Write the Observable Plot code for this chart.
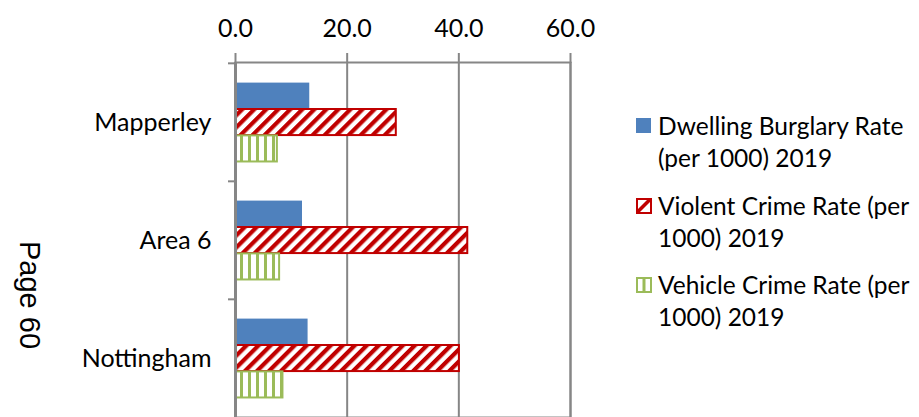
<!DOCTYPE html>
<html>
<head>
<meta charset="utf-8">
<script src="https://cdn.jsdelivr.net/npm/d3@7"></script>
<script src="https://cdn.jsdelivr.net/npm/@observablehq/plot@0.6"></script>
<style>
  html, body { margin: 0; padding: 0; background: #fff; }
  #wrap { position: relative; width: 919px; height: 417px; overflow: hidden; font-family: Lato, sans-serif; }
  #chart { position: absolute; left: 0; top: 0; }
  #legend { position: absolute; left: 636px; top: 110px; font-size: 24.5px; line-height: 32px; color: #000; }
  .entry { position: relative; padding-left: 22px; margin-bottom: 15.5px; width: 280px; white-space: nowrap; }
  .entry svg { position: absolute; left: 0; top: 8px; }
  #page { position: absolute; left: 29px; top: 295px; font-family: "Liberation Sans", Arial, sans-serif; font-size: 29px; color: #000;
          transform: translate(-50%, -50%) rotate(90deg); white-space: nowrap; }
</style>
</head>
<body>
<svg width="0" height="0" style="position:absolute">
  <defs>
    <pattern id="redDiag" patternUnits="userSpaceOnUse" width="8.5" height="8.5" patternTransform="rotate(45)">
      <rect width="8.5" height="8.5" fill="#ffffff"/>
      <rect width="4.2" height="8.5" fill="#C00000"/>
    </pattern>
    <pattern id="greenVert" patternUnits="userSpaceOnUse" width="8" height="8">
      <rect width="8" height="8" fill="#ffffff"/>
      <rect width="3" height="8" fill="#9BBB59"/>
    </pattern>
  </defs>
</svg>
<div id="wrap">
  <div id="chart"></div>
  <div id="page">Page 60</div>
  <div id="legend"></div>
</div>
<script>
const categories = ["Mapperley", "Area 6", "Nottingham"];
const burglaryRate = [13.3, 12.0, 13.0];
const violentRate = [28.8, 41.6, 40.1];
const vehicleRate = [7.5, 7.9, 8.5];
const seriesNames = [
  ["Dwelling Burglary Rate", "(per 1000) 2019"],
  ["Violent Crime Rate (per", "1000) 2019"],
  ["Vehicle Crime Rate (per", "1000) 2019"]
];
const xTicks = [0, 20, 40, 60];

const rows = (vals) => categories.map((c, i) => ({category: c, value: vals[i]}));

const H = 417, MT = 62;
const step = (H - MT) / categories.length;
const barH = 26.4, outer = 19.6;
const inset = (k) => ({insetTop: outer + k * barH, insetBottom: step - outer - (k + 1) * barH});

const gray = "#868686";

const chart = Plot.plot({
  width: 919,
  height: H,
  marginTop: MT,
  marginBottom: 0,
  marginLeft: 235,
  marginRight: 349,
  style: {fontFamily: "Lato, sans-serif", fontSize: "25px", color: "#000", background: "transparent"},
  x: {domain: [0, 60]},
  y: {domain: categories, padding: 0},
  marks: [
    Plot.gridX(xTicks.slice(1), {stroke: gray, strokeOpacity: 1, strokeWidth: 2}),
    Plot.frame({stroke: gray, strokeWidth: 2}),
    Plot.axisX({anchor: "top", ticks: xTicks, tickFormat: d => d.toFixed(1), tickSize: 10, tickPadding: 16, stroke: gray, strokeWidth: 2, fill: "#000", label: null}),
    Plot.axisY({anchor: "left", tickSize: 0, tickPadding: 24, fill: "#000", label: null}),
    Plot.axisY({anchor: "left", tickSize: 7, tickFormat: () => "", stroke: gray, strokeWidth: 2, dy: -step / 2, label: null}),
    Plot.barX(rows(burglaryRate), {x: "value", y: "category", fill: "#4F81BD", ...inset(0)}),
    Plot.barX(rows(violentRate), {x: "value", y: "category", fill: "url(#redDiag)", stroke: "#C00000", strokeWidth: 2, ...inset(1)}),
    Plot.barX(rows(vehicleRate), {x: "value", y: "category", fill: "url(#greenVert)", stroke: "#9BBB59", strokeWidth: 2, ...inset(2)}),
    Plot.ruleX([0], {stroke: gray, strokeWidth: 3})
  ]
});
document.getElementById("chart").appendChild(chart);

const swatches = [
  '<svg width="16" height="16"><rect x="0" y="0" width="15" height="15" fill="#4F81BD"/></svg>',
  '<svg width="17" height="17"><rect x="1" y="1" width="14" height="14" fill="#fff" stroke="#C00000" stroke-width="2"/><polygon points="2,11 11,2 15,2 15,3 3,15 2,15" fill="#C00000"/></svg>',
  '<svg width="17" height="17"><rect x="1" y="1" width="14" height="14" fill="#fff" stroke="#9BBB59" stroke-width="2"/><rect x="6.5" y="1" width="3" height="14" fill="#9BBB59"/></svg>'
];
const legend = document.getElementById("legend");
seriesNames.forEach((lines, i) => {
  const e = document.createElement("div");
  e.className = "entry";
  e.innerHTML = swatches[i] + lines.join("<br>");
  legend.appendChild(e);
});
</script>
</body>
</html>
